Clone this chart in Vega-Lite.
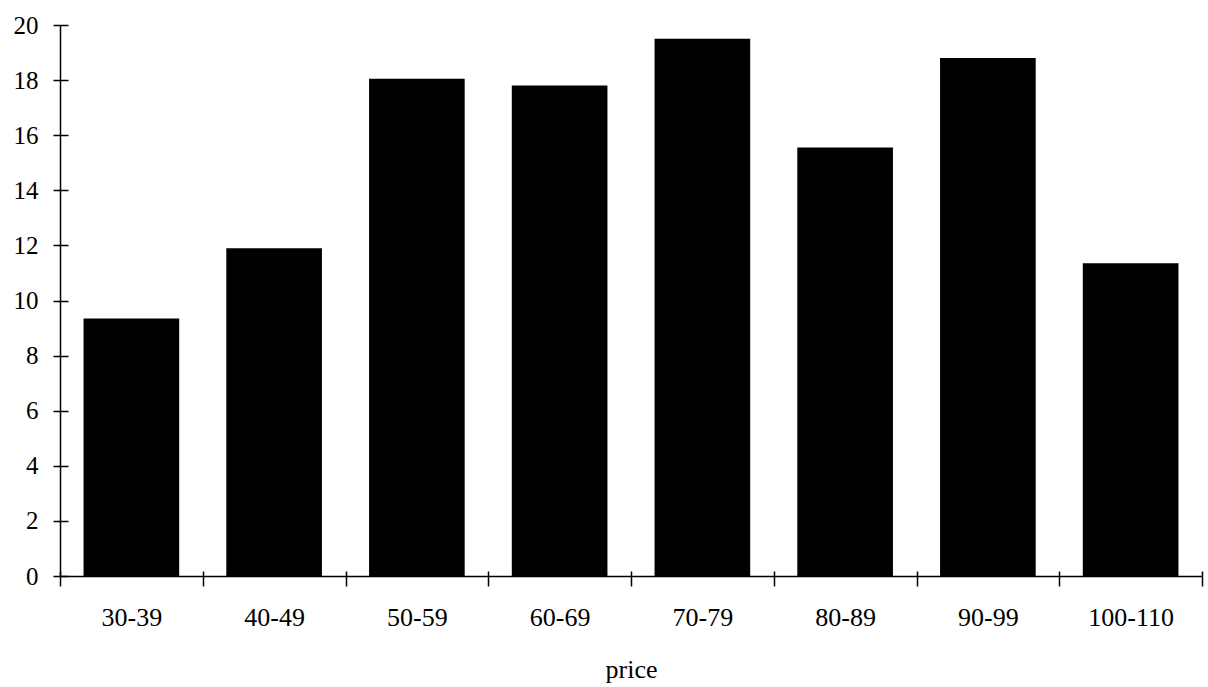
{
  "$schema": "https://vega.github.io/schema/vega-lite/v6.json",
  "width": 1142,
  "height": 551,
  "autosize": {"type": "none"},
  "padding": {"left": 60, "top": 25, "right": 6, "bottom": 111},
  "background": "white",
  "config": {
    "view": {"stroke": null},
    "font": "Liberation Serif",
    "axis": {"labelFont": "Liberation Serif", "titleFont": "Liberation Serif", "labelColor": "black", "titleColor": "black", "domainColor": "black", "tickColor": "black", "grid": false}
  },
  "data": {"values": [
    {"price": "30-39", "value": 9.35},
    {"price": "40-49", "value": 11.9},
    {"price": "50-59", "value": 18.05},
    {"price": "60-69", "value": 17.8},
    {"price": "70-79", "value": 19.5},
    {"price": "80-89", "value": 15.55},
    {"price": "90-99", "value": 18.8},
    {"price": "100-110", "value": 11.35}
  ]},
  "layer": [
    {
      "mark": {"type": "bar", "color": "black"},
      "encoding": {
        "x": {"field": "price", "type": "ordinal", "sort": null,
          "scale": {"paddingInner": 0.33, "paddingOuter": 0.165},
          "axis": {"title": "price", "labelAngle": 0, "labelFontSize": 26, "titleFontSize": 26, "titleFontWeight": "normal",
            "bandPosition": 1.4925, "tickExtra": true, "tickOffset": -23.55, "labelOffset": 23.55,
            "tickSize": 10, "tickWidth": 1.5, "domainWidth": 1.5, "labelPadding": 18, "titlePadding": 26}},
        "y": {"field": "value", "type": "quantitative",
          "scale": {"domain": [0, 20], "nice": false},
          "axis": {"title": null, "values": [0,2,4,6,8,10,12,14,16,18,20], "labelFontSize": 25, "tickSize": 7, "tickWidth": 1.5, "domainWidth": 1.5, "labelPadding": 15}}
      }
    },
    {
      "mark": {"type": "bar", "opacity": 0},
      "encoding": {
        "x": {"field": "price", "type": "ordinal", "sort": null,
          "axis": {"orient": "bottom", "title": null, "labels": false, "domain": false,
            "bandPosition": 1.4925, "tickExtra": true, "tickOffset": -23.55,
            "tickSize": -5, "tickWidth": 1.5}},
        "y": {"field": "value", "type": "quantitative",
          "axis": {"orient": "left", "title": null, "labels": false, "domain": false, "values": [0,2,4,6,8,10,12,14,16,18,20], "tickSize": -8, "tickWidth": 1.5}}
      }
    }
  ],
  "resolve": {"axis": {"x": "independent", "y": "independent"}}
}
